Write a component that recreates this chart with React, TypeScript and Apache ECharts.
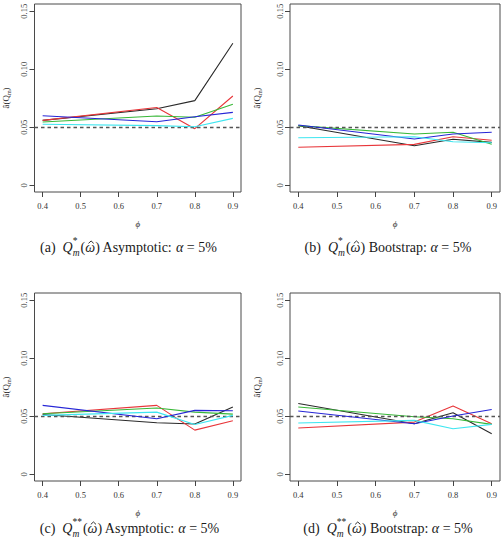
import React, { useEffect, useRef } from "react";
import * as echarts from "echarts";

// Autoregressive parameter values at which the sizes were simulated
const PHI = [0.4, 0.7, 0.8, 0.9];
const PHI_TICKS = [0.4, 0.5, 0.6, 0.7, 0.8, 0.9];
const SIZE_TICKS = [0, 0.05, 0.1, 0.15];
const NOMINAL = 0.05;

// (a) Q*_m asymptotic
const aBlack = [0.056, 0.066, 0.073, 0.1224];
const aRed = [0.056, 0.067, 0.0488, 0.077];
const aGreen = [0.0546, 0.0597, 0.0586, 0.0698];
const aBlue = [0.06, 0.0548, 0.0591, 0.0629];
const aCyan = [0.0526, 0.0514, 0.0505, 0.0577];

// (b) Q*_m bootstrap
const bBlack = [0.0514, 0.0341, 0.0397, 0.037];
const bRed = [0.0328, 0.0353, 0.0419, 0.0388];
const bGreen = [0.0514, 0.0442, 0.0457, 0.0353];
const bBlue = [0.052, 0.0399, 0.0442, 0.0457];
const bCyan = [0.041, 0.0419, 0.0376, 0.0367];

// (c) Q**_m asymptotic
const cBlack = [0.0516, 0.0445, 0.0433, 0.058];
const cRed = [0.0522, 0.0594, 0.0381, 0.0462];
const cGreen = [0.0522, 0.0571, 0.0536, 0.0519];
const cBlue = [0.0594, 0.0479, 0.0551, 0.0548];
const cCyan = [0.0508, 0.0536, 0.043, 0.0508];

// (d) Q**_m bootstrap
const dBlack = [0.0611, 0.0436, 0.0531, 0.035];
const dRed = [0.0399, 0.045, 0.0588, 0.0436];
const dGreen = [0.058, 0.0496, 0.0479, 0.043];
const dBlue = [0.0545, 0.0436, 0.0502, 0.0559];
const dCyan = [0.0442, 0.0465, 0.0393, 0.043];

const PANEL_SERIES = [
  [aBlack, aRed, aGreen, aBlue, aCyan],
  [bBlack, bRed, bGreen, bBlue, bCyan],
  [cBlack, cRed, cGreen, cBlue, cCyan],
  [dBlack, dRed, dGreen, dBlue, dCyan],
];

const PANEL_TAGS = ["(a)", "(b)", "(c)", "(d)"];
const STATISTIC_STARS = ["*", "*", "**", "**"];
const METHODS = ["Asymptotic", "Bootstrap", "Asymptotic", "Bootstrap"];

const LINE_COLORS = ["#2a2a2a", "#e8363a", "#38b838", "#2626d6", "#3ee6f0"];
const SERIF = '"Liberation Serif", "DejaVu Serif", serif';
const INK = "#1a1a1a";

// Plot boxes and caption anchors
const BOXES = [
  { left: 31, top: 4, nameGap: 23, capX: 128.5, capY: 247 },
  { left: 290, top: 4, nameGap: 27, capX: 388, capY: 247 },
  { left: 31, top: 293, nameGap: 23, capX: 129.5, capY: 528 },
  { left: 290, top: 293, nameGap: 27, capX: 388, capY: 528 },
];
const BOX_W = 210;
const BOX_H = 188;

type Piece = {
  t: string;
  it?: boolean;
  s?: number;
  y?: number;
  va?: "top" | "middle" | "bottom";
  noAdvance?: boolean;
  adv?: number;
  hat?: boolean;
};

// Caption "(x) Q^{*}_{m}(ω̂) Method: α = 5%" laid out piece by piece
function captionElements(tag: string, stars: string, method: string, cx: number, cy: number, size: number) {
  const canvas = document.createElement("canvas");
  const ctx = canvas.getContext("2d") as CanvasRenderingContext2D;
  const fontOf = (s: number, it?: boolean) => `${it ? "italic " : ""}${s}px ${SERIF}`;
  const width = (t: string, s: number, it?: boolean) => {
    ctx.font = fontOf(s, it);
    return ctx.measureText(t).width;
  };
  const small = size * 0.68;
  const stackW = Math.max(width(stars, small), width("m", small, true));
  const pieces: Piece[] = [
    { t: tag + "\u2002" },
    { t: "Q", it: true },
    { t: stars, s: small, y: cy - 0.6, va: "bottom", noAdvance: true },
    { t: "m", it: true, s: small, y: cy + 0.6, va: "top", adv: stackW + 1 },
    { t: "(" },
    { t: "\u03c9", it: true, hat: true },
    { t: ")" },
    { t: " " + method + ": " },
    { t: "\u03b1", it: true },
    { t: " = 5%" },
  ];
  const advances = pieces.map((p) =>
    p.noAdvance ? 0 : p.adv != null ? p.adv : width(p.t, p.s ?? size, p.it)
  );
  const total = advances.reduce((a, b) => a + b, 0);
  let x = cx - total / 2;
  const out: any[] = [];
  pieces.forEach((p, i) => {
    const s = p.s ?? size;
    out.push({
      type: "text",
      x,
      y: p.y ?? cy,
      silent: true,
      style: {
        text: p.t,
        font: fontOf(s, p.it),
        fill: INK,
        textAlign: "left",
        textVerticalAlign: p.va ?? "middle",
      },
    });
    if (p.hat) {
      const mid = x + advances[i] / 2 + 0.9;
      const top = cy - size * 0.43;
      out.push({
        type: "polyline",
        silent: true,
        shape: { points: [[mid - 2.6, top + 2.4], [mid, top], [mid + 2.6, top + 2.4]] },
        style: { stroke: INK, lineWidth: 0.9, fill: null },
      });
    }
    x += advances[i];
  });
  return out;
}

export default function App() {
  const ref = useRef<HTMLDivElement>(null);

  useEffect(() => {
    if (!ref.current) return;
    const chart = echarts.init(ref.current, undefined, { renderer: "svg" });

    const grid = BOXES.map((b) => ({
      left: b.left,
      top: b.top,
      width: BOX_W,
      height: BOX_H,
      show: true,
      borderColor: "#4a4a4a",
      borderWidth: 1,
      backgroundColor: "transparent",
    }));

    const xAxis = BOXES.map((_, i) => ({
      type: "value",
      gridIndex: i,
      min: 0.3786,
      max: 0.9214,
      axisLine: { show: false, onZero: false },
      splitLine: { show: false },
      axisTick: { show: true, customValues: PHI_TICKS, length: 5, lineStyle: { color: "#444", width: 1 } },
      axisLabel: {
        customValues: PHI_TICKS,
        formatter: (v: number) => v.toFixed(1),
        fontSize: 8.5,
        fontFamily: SERIF,
        color: "#333",
        margin: 9,
      },
      name: "\u03d5",
      nameLocation: "middle",
      nameGap: 27,
      nameTextStyle: { fontStyle: "italic", fontSize: 9, fontFamily: SERIF, color: "#333" },
    }));

    const yAxis = BOXES.map((b, i) => ({
      type: "value",
      gridIndex: i,
      min: -0.00578,
      max: 0.15629,
      axisLine: { show: false, onZero: false },
      splitLine: { show: false },
      axisTick: { show: true, customValues: SIZE_TICKS, length: 5, lineStyle: { color: "#444", width: 1 } },
      axisLabel: {
        customValues: SIZE_TICKS,
        rotate: 90,
        formatter: (v: number) => (Math.abs(v) < 1e-9 ? "0" : v.toFixed(2)),
        fontSize: 8.5,
        fontFamily: SERIF,
        color: "#333",
        margin: 6,
      },
      name: "{a|\u00e2(Q}{s|m}{a|)}",
      nameLocation: "middle",
      nameRotate: 90,
      nameGap: b.nameGap,
      nameTextStyle: {
        color: "#333",
        rich: {
          a: { fontSize: 9, fontFamily: SERIF, color: "#333", lineHeight: 12, verticalAlign: "middle" },
          s: { fontSize: 6, fontFamily: SERIF, color: "#333", lineHeight: 12, verticalAlign: "bottom" },
        },
      },
    }));

    const series: any[] = [];
    PANEL_SERIES.forEach((panel, i) => {
      panel.forEach((vals, k) => {
        series.push({
          type: "line",
          name: `panel${i}-line${k}`,
          xAxisIndex: i,
          yAxisIndex: i,
          data: PHI.map((x, j) => [x, vals[j]]),
          symbol: "none",
          showSymbol: false,
          lineStyle: { color: LINE_COLORS[k], width: 1.1 },
          z: 2 + k,
          markLine:
            k === 0
              ? {
                  silent: true,
                  symbol: "none",
                  label: { show: false },
                  lineStyle: { color: "#555", type: [3.5, 3], width: 1.3 },
                  data: [{ yAxis: NOMINAL }],
                }
              : undefined,
        });
      });
    });

    const graphic: any[] = [];
    BOXES.forEach((b, i) => {
      graphic.push(...captionElements(PANEL_TAGS[i], STATISTIC_STARS[i], METHODS[i], b.capX, b.capY, 14));
    });

    chart.setOption({
      animation: false,
      backgroundColor: "#ffffff",
      grid,
      xAxis,
      yAxis,
      series,
      graphic,
    });

    return () => chart.dispose();
  }, []);

  return (
    <div
      ref={ref}
      style={{ position: "absolute", left: 0, top: 0, width: 503, height: 551 }}
    />
  );
}
